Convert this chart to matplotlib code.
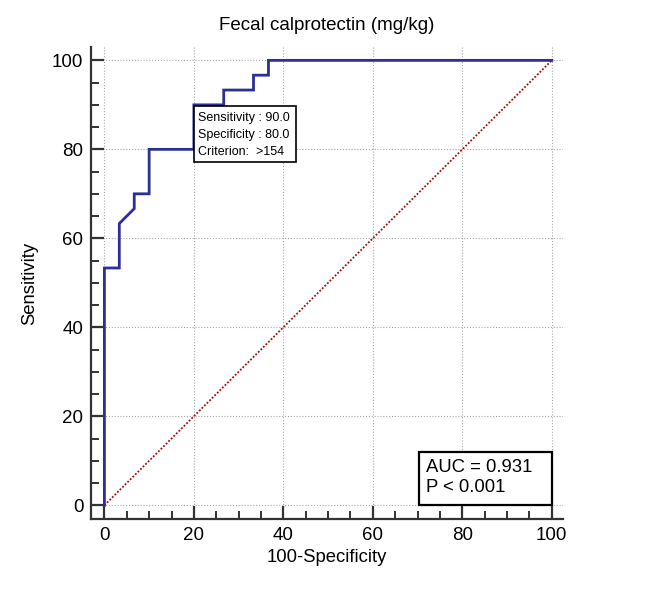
import matplotlib
matplotlib.use("Agg")
import matplotlib.pyplot as plt
from matplotlib.patches import Rectangle
from matplotlib.ticker import MultipleLocator

plt.rcParams['font.family'] = ['Liberation Sans', 'DejaVu Sans']

# ROC curve (100-Specificity, Sensitivity)
fpr = [0, 0, 3.33, 3.33, 6.67, 6.67, 10, 10, 20, 20, 26.67, 26.67, 33.33, 33.33, 36.67, 36.67, 100]
tpr = [0, 53.33, 53.33, 63.33, 66.67, 70, 70, 80, 80, 90, 90, 93.33, 93.33, 96.67, 96.67, 100, 100]
ref_line = [0, 100]

title = "Fecal calprotectin (mg/kg)"
crit_lines = ["Sensitivity : 90.0", "Specificity : 80.0", "Criterion:  >154"]
auc_lines = ["AUC = 0.931", "P < 0.001"]

fig = plt.figure(figsize=(6.69, 5.90), dpi=100)
ax = fig.add_axes([0.136, 0.1203, 0.7055, 0.800])

ax.plot(ref_line, ref_line, color='#a01010', lw=1.3, ls=(0, (1, 1)), zorder=2)
ax.plot(fpr, tpr, color='#2b2f96', lw=2.0, zorder=3, solid_joinstyle='miter')

ax.set_xlim(-3.0, 102.5)
ax.set_ylim(-3.1, 103.0)
ax.xaxis.set_major_locator(MultipleLocator(20))
ax.yaxis.set_major_locator(MultipleLocator(20))
ax.xaxis.set_minor_locator(MultipleLocator(5))
ax.yaxis.set_minor_locator(MultipleLocator(5))
ax.grid(True, which='major', color='#a8a8a8', ls=(0, (1, 1.6)), lw=0.8, zorder=1)

for s in ['top', 'right']:
    ax.spines[s].set_visible(False)
for s in ['left', 'bottom']:
    ax.spines[s].set_linewidth(1.6)
    ax.spines[s].set_color('#333333')
ax.tick_params(which='major', direction='in', length=9.5, width=1.6, color='#333333',
               labelsize=13.5, pad=5.5)
ax.tick_params(which='minor', direction='in', length=5.8, width=1.4, color='#333333')

ax.set_title(title, fontsize=13.5, pad=12)
ax.set_xlabel("100-Specificity", fontsize=13.3, labelpad=4)
ax.set_ylabel("Sensitivity", fontsize=13.3, labelpad=10)

# criterion box
ax.add_patch(Rectangle((20.0, 77.1), 22.9, 12.6, facecolor='white', edgecolor='black',
                       lw=1.2, zorder=4))
for i, t in enumerate(crit_lines):
    ax.text(21.0, 87.0 - i * 3.75, t, fontsize=9, va='center', ha='left', zorder=5)

# AUC box
ax.add_patch(Rectangle((70.3, 0.0), 29.7, 12.0, facecolor='white', edgecolor='black',
                       lw=1.6, zorder=4))
for i, t in enumerate(auc_lines):
    ax.text(71.8, 8.5 - i * 4.6, t, fontsize=13.3, va='center', ha='left', zorder=5)

fig.savefig("out.png", dpi=100)
